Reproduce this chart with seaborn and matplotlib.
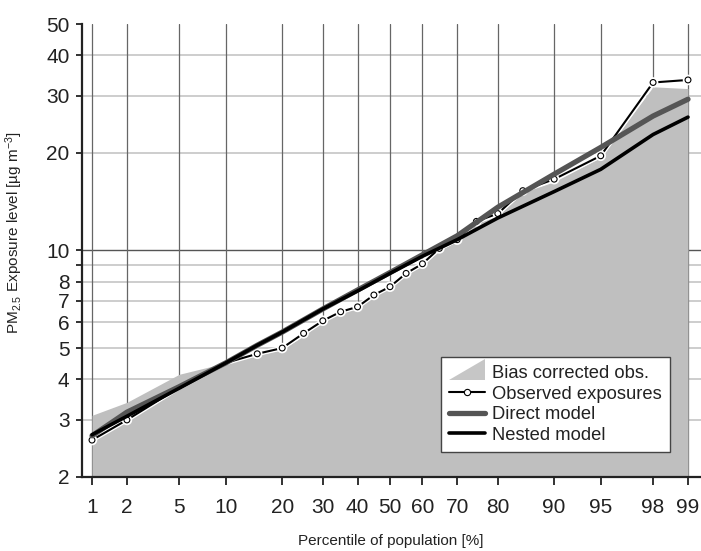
import numpy as np
import pandas as pd
import matplotlib
matplotlib.use("Agg")
import matplotlib.pyplot as plt
import seaborn as sns
from statistics import NormalDist
from matplotlib.patches import Polygon
from matplotlib.lines import Line2D
from matplotlib.legend_handler import HandlerBase
import matplotlib.patheffects as pe

# ---------------- data ----------------
bias_pct = [1, 2, 5, 10, 15, 20, 25, 30, 35, 40, 45, 50, 55, 60, 65, 70, 75, 80, 85, 90, 95, 98, 99]
bias_val = [3.1, 3.4, 4.15, 4.5, 4.75, 4.95, 5.45, 6.05, 6.45, 6.65, 7.25, 7.7, 8.45, 9.0,
            10.0, 10.7, 12.1, 12.8, 15.1, 16.3, 19.4, 32.0, 31.6]

obs_pct = [1, 2, 5, 10, 15, 20, 25, 30, 35, 40, 45, 50, 55, 60, 65, 70, 75, 80, 85, 90, 95, 98, 99]
obs_val = [2.6, 3.0, 3.78, 4.5, 4.8, 5.0, 5.55, 6.07, 6.47, 6.7, 7.29, 7.73, 8.5, 9.1,
           10.15, 10.8, 12.3, 13.0, 15.3, 16.6, 19.6, 33.0, 33.6]

model_pct = [1, 2, 5, 10, 15, 20, 30, 40, 50, 60, 70, 80, 90, 95, 98, 99]
direct_val = [2.68, 3.17, 3.8, 4.5, 5.1, 5.6, 6.6, 7.55, 8.55, 9.7, 11.1, 13.6, 17.2, 20.8, 26.0, 29.3]
nested_val = [2.7, 3.08, 3.76, 4.5, 5.1, 5.6, 6.6, 7.5, 8.5, 9.6, 10.8, 12.6, 15.2, 17.8, 22.8, 25.8]

x_ticks = [1, 2, 5, 10, 20, 30, 40, 50, 60, 70, 80, 90, 95, 98, 99]
y_ticks = [2, 3, 4, 5, 6, 7, 8, 9, 10, 20, 30, 40, 50]
y_ticklabels = ["2", "3", "4", "5", "6", "7", "8", "", "10", "20", "30", "40", "50"]
y_grid_light = [3, 4, 5, 6, 7, 8, 9, 20, 30, 40]
y_grid_dark = [10]

legend_labels = ["Bias corrected obs.", "Observed exposures", "Direct model", "Nested model"]

# ---------------- probability scale ----------------
_nd = NormalDist()
_ppf = np.vectorize(_nd.inv_cdf, otypes=[float])
_cdf = np.vectorize(_nd.cdf, otypes=[float])


def fwd(p):
    p = np.clip(np.asarray(p, dtype=float) / 100.0, 1e-9, 1 - 1e-9)
    return _ppf(p)


def inv(z):
    return _cdf(np.asarray(z, dtype=float)) * 100.0


sns.set_theme(style="white")
plt.rcParams["font.family"] = ["Liberation Sans", "DejaVu Sans"]
plt.rcParams["mathtext.default"] = "regular"
plt.rcParams["text.color"] = "#222222"
plt.rcParams["axes.labelcolor"] = "#222222"
plt.rcParams["xtick.color"] = "#222222"
plt.rcParams["ytick.color"] = "#222222"

fig = plt.figure(figsize=(7.01, 5.51), dpi=100)
ax = fig.add_axes([82 / 701, 74 / 551, 619 / 701, 453 / 551])
ax.set_xscale("function", functions=(fwd, inv))
ax.set_yscale("log")
ax.set_xlim(float(inv(-2.4044)), float(inv(2.4278)))
ax.set_ylim(2, 50)

# grid
for v in y_grid_light:
    ax.axhline(v, color="#c9c9c9", lw=1.3, zorder=0.5)
for v in y_grid_dark:
    ax.axhline(v, color="#555555", lw=1.0, zorder=0.6)
for v in x_ticks:
    ax.axvline(v, color="#666666", lw=0.9, zorder=0.6)

fill_color = "#bfbfbf"
ax.fill_between(bias_pct, bias_val, 2, color=fill_color, lw=0, zorder=1)

obs_df = pd.DataFrame({"pct": obs_pct, "val": obs_val})
dir_df = pd.DataFrame({"pct": model_pct, "val": direct_val})
nes_df = pd.DataFrame({"pct": model_pct, "val": nested_val})

marker_idx = [i for i, p in enumerate(obs_pct) if p not in (5, 10)]
sns.lineplot(data=obs_df, x="pct", y="val", ax=ax, estimator=None, sort=False,
             color="black", lw=1.5, marker="o", markersize=4.2,
             markerfacecolor="white", markeredgecolor="black", markeredgewidth=0.8,
             markevery=marker_idx, zorder=3,
             path_effects=[pe.Stroke(linewidth=3.4, foreground="white"), pe.Normal()])
sns.lineplot(data=dir_df, x="pct", y="val", ax=ax, estimator=None, sort=False,
             color="#555555", lw=3.8, zorder=4)
sns.lineplot(data=nes_df, x="pct", y="val", ax=ax, estimator=None, sort=False,
             color="black", lw=2.6, zorder=5)

# ticks
ax.set_xticks(x_ticks)
ax.set_xticklabels([str(v) for v in x_ticks])
ax.set_yticks(y_ticks)
ax.set_yticklabels(y_ticklabels)
ax.yaxis.set_minor_locator(matplotlib.ticker.NullLocator())
ax.xaxis.set_minor_locator(matplotlib.ticker.NullLocator())
ax.tick_params(axis="x", direction="out", length=6, width=1.3, color="#222222",
               labelsize=15, pad=9, bottom=True)
ax.tick_params(axis="y", direction="out", length=4, width=1.3, color="#222222",
               labelsize=15, pad=5, left=True)

for s in ["top", "right"]:
    ax.spines[s].set_visible(False)
for s in ["left", "bottom"]:
    ax.spines[s].set_color("#222222")
    ax.spines[s].set_linewidth(1.6)

ax.set_xlabel("Percentile of population [%]", fontsize=11)
ax.set_ylabel("PM$_{2.5}$ Exposure level [µg m$^{-3}$]", fontsize=11)
ax.xaxis.set_label_coords(0.499, -0.125)
ax.yaxis.set_label_coords(-0.092, 0.54)


# legend
class TriHandler(HandlerBase):
    def create_artists(self, legend, orig_handle, xdescent, ydescent,
                       width, height, fontsize, trans):
        x0, x1 = -xdescent, width - xdescent
        y0 = -ydescent - 0.15 * height
        y1 = -ydescent + 1.45 * height
        poly = Polygon([[x0, y0], [x1, y0], [x1, y1]], closed=True,
                       facecolor="#c6c6c6", edgecolor="none", transform=trans)
        return [poly]


tri_handle = Polygon([[0, 0], [1, 0], [1, 1]])
obs_handle = Line2D([], [], color="black", lw=1.5, marker="o", markersize=4.5,
                    markerfacecolor="white", markeredgecolor="black", markeredgewidth=0.8)
dir_handle = Line2D([], [], color="#555555", lw=3.8)
nes_handle = Line2D([], [], color="black", lw=2.6)

leg = ax.legend([tri_handle, obs_handle, dir_handle, nes_handle], legend_labels,
                handler_map={Polygon: TriHandler()},
                loc="lower left", bbox_to_anchor=(0.580, 0.055), borderaxespad=0,
                fontsize=13.2, handlelength=1.95, handletextpad=0.38,
                labelspacing=0.2, borderpad=0.45, fancybox=False, framealpha=1,
                edgecolor="#444444", facecolor="white")
leg.get_frame().set_linewidth(1.0)
leg.set_zorder(10)

fig.savefig("out.png", dpi=100)
